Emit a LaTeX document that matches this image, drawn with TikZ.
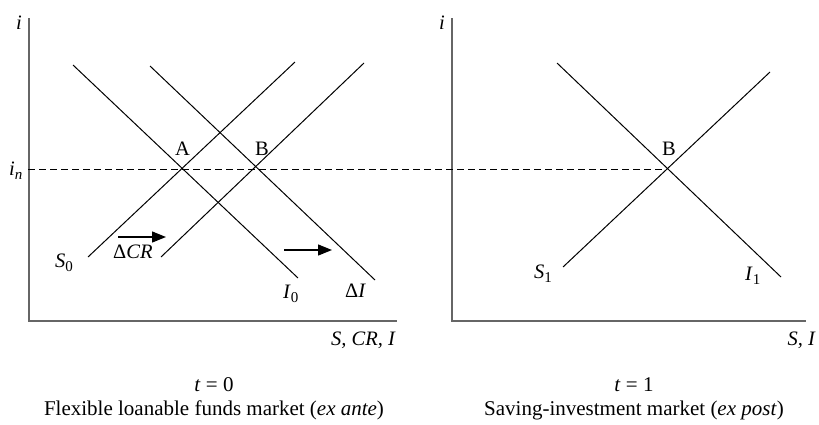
\documentclass[tikz,border=0pt]{standalone}
\usepackage{fontspec}
\setmainfont{Liberation Serif}
\usetikzlibrary{arrows.meta}
\newcommand{\lowsub}[1]{\raisebox{-0.5ex}{\fontsize{15}{15}\selectfont #1}}
\begin{document}
\begin{tikzpicture}[x=1pt,y=-1pt,
  axis/.style={draw=black!60, line width=2pt},
  curve/.style={draw=black, line width=1pt},
  lbl/.style={font=\fontsize{20.5}{22}\selectfont, inner sep=0pt, anchor=base west},
  captxt/.style={font=\fontsize{21}{23}\selectfont, inner sep=0pt, anchor=base},
  shiftarrow/.style={draw=black, line width=1.3pt, -{Triangle[length=14pt,width=11pt]}}]
\useasboundingbox (0,0) rectangle (819,424);
% left axes
\coordinate (Ltop) at (29,18);
\coordinate (Lorig) at (29,321);
\coordinate (Lend) at (397,321);
\draw[axis] (Ltop) -- (Lorig) -- (Lend);
% right axes
\coordinate (Rtop) at (452,18);
\coordinate (Rorig) at (452,321);
\coordinate (Rend) at (806,321);
\draw[axis] (Rtop) -- (Rorig) -- (Rend);
% dashed line
\coordinate (dashL) at (28,169);
\coordinate (dashR) at (667,169);
\draw[black, line width=1pt, dash pattern=on 7pt off 4pt] (dashL) -- (dashR);
% left curves
\coordinate (I0a) at (73,65);   \coordinate (I0b) at (298,278);
\coordinate (DIa) at (150,66);  \coordinate (DIb) at (375,280);
\coordinate (S0a) at (88,257);  \coordinate (S0b) at (295,62);
\coordinate (S1a) at (161,257); \coordinate (S1b) at (364,63);
\draw[curve] (I0a) -- (I0b);
\draw[curve] (DIa) -- (DIb);
\draw[curve] (S0a) -- (S0b);
\draw[curve] (S1a) -- (S1b);
% right curves
\coordinate (RIa) at (557,63);  \coordinate (RIb) at (781,277);
\coordinate (RSa) at (563,267); \coordinate (RSb) at (770,72);
\draw[curve] (RIa) -- (RIb);
\draw[curve] (RSa) -- (RSb);
% shift arrows
\coordinate (crA) at (118,237); \coordinate (crB) at (166,237);
\coordinate (diA) at (284,250); \coordinate (diB) at (332,250);
\draw[shiftarrow] (crA) -- (crB);
\draw[shiftarrow] (diA) -- (diB);
% labels
\node[lbl] (iL) at (16,29) {\textit{i}};
\node[lbl] (inL) at (9,175) {\textit{i}\lowsub{\textit{n}}};
\node[lbl] (A) at (175,155) {A};
\node[lbl] (B) at (255,155) {B};
\node[lbl] (S0) at (55,267) {\textit{S}\lowsub{0}};
\node[lbl] (DCR) at (113,258) {Δ\textit{CR}};
\node[lbl] (I0) at (283,298) {\textit{I}\lowsub{0}};
\node[lbl] (DI) at (345,297) {Δ\textit{I}};
\node[lbl] (iR) at (439,29) {\textit{i}};
\node[lbl] (BR) at (662,155) {B};
\node[lbl] (S1) at (534,278) {\textit{S}\lowsub{1}};
\node[lbl] (I1) at (745,280) {\textit{I}\lowsub{1}};
\node[lbl, anchor=base east] (xL) at (396,345) {\textit{S, CR, I}};
\node[lbl, anchor=base east] (xR) at (816,345) {\textit{S, I}};
\node[captxt] (t0) at (214,391) {\textit{t} = 0};
\node[captxt] (c0) at (214,415) {Flexible loanable funds market (\textit{ex ante})};
\node[captxt] (t1) at (634,391) {\textit{t} = 1};
\node[captxt] (c1) at (634,415) {Saving-investment market (\textit{ex post})};
\end{tikzpicture}
\end{document}
